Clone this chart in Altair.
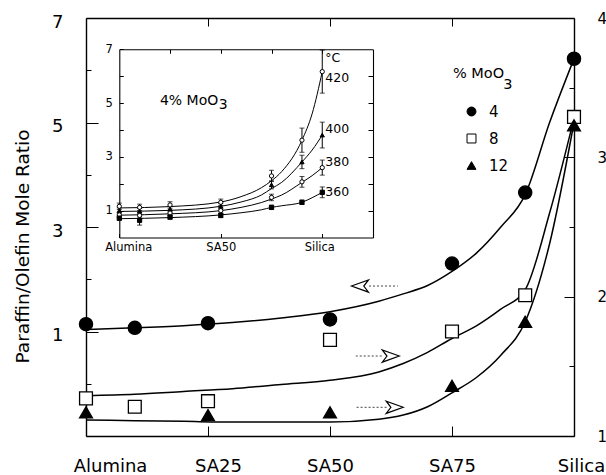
import altair as alt
import pandas as pd

FONT = "DejaVu Sans"

# ---------------- main panel: product ratio vs silica content (%) ----------------
silica_4 = [0, 10, 25, 50, 75, 90, 100]
ratio_4 = [1.14, 1.07, 1.16, 1.23, 2.30, 3.66, 6.22]          # left axis
silica_8 = [0, 10, 25, 50, 75, 90, 100]
ratio_8 = [1.27, 1.21, 1.25, 1.69, 1.75, 2.01, 3.29]           # right axis
silica_12 = [0, 25, 50, 75, 90, 100]
ratio_12 = [1.17, 1.15, 1.17, 1.36, 1.82, 3.23]               # right axis

# fitted curves
fit_x = [0, 10, 20, 30, 40, 50, 60, 65, 70, 75, 80, 85, 90, 95, 100]
fit_4 = [1.04, 1.07, 1.11, 1.17, 1.26, 1.38, 1.58, 1.72, 1.88, 2.15, 2.50, 3.00, 3.62, 5.00, 6.22]
fit_8 = [1.29, 1.30, 1.32, 1.34, 1.37, 1.40, 1.46, 1.52, 1.60, 1.70, 1.79, 1.91, 2.05, 2.60, 3.28]
fit_12 = [1.115, 1.11, 1.105, 1.10, 1.10, 1.10, 1.12, 1.15, 1.21, 1.31, 1.42, 1.58, 1.82, 2.38, 3.25]

support_ticks = [0, 25, 50, 75, 100]
support_names = ["Alumina", "SA25", "SA50", "SA75", "Silica"]
moo3_levels = ["4", "8", "12"]

# direction arrows: which axis each curve belongs to
arrow_side = ["left", "right", "right"]
arrow_tip = [54.4, 64.2, 65.0]
arrow_base = [58.0, 60.6, 61.6]
arrow_tail = [63.9, 55.3, 55.3]
arrow_y = [1.87, 1.574, 1.206]

# ---------------- inset: 4% MoO3 at several temperatures ----------------
inset_x = [0, 10, 25, 50, 75, 90, 100]
inset_temps = ["420", "400", "380", "360"]
inset_ratio = {
    "420": [1.16, 1.12, 1.21, 1.31, 2.29, 3.62, 6.17],
    "400": [1.00, 0.98, 1.06, 1.16, 1.96, 2.81, 3.81],
    "380": [0.84, 0.82, 0.91, 1.00, 1.49, 2.07, 2.60],
    "360": [0.72, 0.64, 0.76, 0.82, 1.12, 1.31, 1.68],
}
inset_err = {
    "420": [0.12, 0.12, 0.12, 0.12, 0.21, 0.45, 0.80],
    "400": [0.10, 0.10, 0.10, 0.10, 0.15, 0.25, 0.48],
    "380": [0.10, 0.10, 0.10, 0.10, 0.12, 0.20, 0.28],
    "360": [0.08, 0.18, 0.08, 0.08, 0.08, 0.08, 0.20],
}
inset_fit_x = [0, 25, 50, 60, 70, 75, 80, 90, 95, 100]
inset_fit = {
    "420": [1.10, 1.15, 1.32, 1.52, 1.85, 2.11, 2.45, 3.62, 4.60, 6.17],
    "400": [0.97, 1.01, 1.16, 1.32, 1.58, 1.82, 2.05, 2.81, 3.25, 3.81],
    "380": [0.83, 0.88, 1.00, 1.12, 1.30, 1.43, 1.58, 2.05, 2.30, 2.60],
    "360": [0.70, 0.74, 0.84, 0.92, 1.03, 1.12, 1.18, 1.31, 1.48, 1.68],
}
inset_marker = {"420": ("circle", False), "400": ("triangle-up", True),
                "380": ("circle", False), "360": ("square", True)}
inset_support_ticks = [0, 50, 100]
inset_support_names = ["Alumina", "SA50", "Silica"]
temp_label_y = [5.94, 4.02, 2.80, 1.69]

# ---------------- geometry ----------------
W, H = 488, 418
IN_X = [33.3, 287.0]
IN_Y = [219.5, 31.3]


def sx():
    return alt.Scale(domain=[0, 100], nice=False, zero=False)


def s_left():
    return alt.Scale(domain=[-1, 7], nice=False, zero=False)


def s_right():
    return alt.Scale(domain=[1, 4], nice=False, zero=False)


def s_inx():
    return alt.Scale(domain=[0, 125], range=IN_X, nice=False, zero=False)


def s_iny():
    return alt.Scale(domain=[0, 7], range=IN_Y, nice=False, zero=False)


def inward(n):
    # negative tick length draws the ticks inside the frame
    return {"expr": str(-n)}


def names_expr(names, step):
    arr = "[" + ",".join("'%s'" % n for n in names) + "]"
    return "%s[round(datum.value / %d)]" % (arr, step)


common = dict(grid=False, domainColor="black", tickColor="black", labelColor="black",
              labelFont=FONT, labelFlush=False, labelOverlap=False, title=None)

ax_bottom = alt.Axis(orient="bottom", values=support_ticks,
                     labelExpr=names_expr(support_names, 25),
                     tickSize=inward(10), tickWidth=1, domainWidth=1.4,
                     labelFontSize=18, labelPadding=31,
                     labelOffset={"expr": "datum.value == 0 ? 24 : datum.value == 25 ? 10 : datum.value == 100 ? 7 : 0"},
                     **common)
ax_top = alt.Axis(orient="top", values=[25, 50, 75], labels=False,
                  tickSize=inward(8), tickWidth=1, domainWidth=1.4, **common)
common_y = dict(common)
common_y.pop("title")
ax_left = alt.Axis(orient="left", values=[1, 3, 5, 7], tickSize=inward(12), tickWidth=1,
                   domainWidth=1.4, labelFontSize=18, labelPadding=35, labelOffset=4,
                   title="Paraffin/Olefin Mole Ratio", titleFont=FONT, titleFontSize=18.5,
                   titleFontWeight="normal", titleColor="black", titleX=-64, titleY=228,
                   titleAngle=270, titleAlign="center", titleBaseline="middle", **common_y)
ax_left_minor = alt.Axis(orient="left", values=[0, 2, 4, 6], labels=False, domain=False,
                         tickSize=inward(5), tickWidth=1, **common)
ax_right = alt.Axis(orient="right", values=[1, 2, 3, 4], tickSize=inward(10), tickWidth=1,
                    domainWidth=1.4, labelFontSize=15, labelPadding=33, **common)
ax_right_minor = alt.Axis(orient="right", values=[1.5, 2.5, 3.5], labels=False, domain=False,
                          tickSize=inward(5), tickWidth=1, **common)

ax_in_bottom = alt.Axis(orient="bottom", offset=IN_Y[0] - H, values=inset_support_ticks,
                        labelExpr=names_expr(inset_support_names, 50),
                        tickSize=inward(4), tickWidth=1, domainWidth=1.1,
                        labelFontSize=11.5, labelPadding=8,
                        labelOffset={"expr": "datum.value == 0 ? 9 : datum.value == 100 ? -3 : 0"},
                        **common)
ax_in_left = alt.Axis(orient="left", offset=-IN_X[0], values=[1, 2, 3, 4, 5, 6, 7],
                      labelExpr="datum.value % 2 == 1 ? datum.label : ''",
                      tickSize=inward(4), tickWidth=1, domainWidth=1.1,
                      labelFontSize=11.5, labelPadding=11, **common)
ax_in_top = alt.Axis(orient="top", offset=-IN_Y[1], values=[25, 50, 75, 100], labels=False,
                     tickSize=inward(4), tickWidth=1, domainWidth=1.1, **common)
ax_in_right = alt.Axis(orient="right", offset=IN_X[1] - W, values=[1, 2, 3, 4, 5, 6],
                       labels=False, tickSize=inward(5), tickWidth=1, domainWidth=1.1, **common)

# ---------------- data tables ----------------
pts_left = pd.DataFrame({"silica": silica_4, "ratio": ratio_4, "MoO3": "4"})
pts_right = pd.DataFrame({"silica": silica_8 + silica_12, "ratio": ratio_8 + ratio_12,
                          "MoO3": ["8"] * len(silica_8) + ["12"] * len(silica_12)})
curve_left = pd.DataFrame({"silica": fit_x, "ratio": fit_4})
curve_right = pd.DataFrame({"silica": fit_x + fit_x, "ratio": fit_8 + fit_12,
                            "MoO3": ["8"] * len(fit_x) + ["12"] * len(fit_x)})
arrows = pd.DataFrame({"side": arrow_side, "tip": arrow_tip, "base": arrow_base,
                       "tail": arrow_tail, "y": arrow_y})
arrows_l = arrows[arrows.side == "left"]
arrows_r = arrows[arrows.side == "right"]

ins_rows = []
for t in inset_temps:
    for x, v, e in zip(inset_x, inset_ratio[t], inset_err[t]):
        ins_rows.append({"temp": t, "silica": x, "ratio": v, "lo": v - e, "hi": v + e})
ins_pts = pd.DataFrame(ins_rows)
ins_fit = pd.DataFrame([{"temp": t, "silica": x, "ratio": v}
                        for t in inset_temps for x, v in zip(inset_fit_x, inset_fit[t])])
ins_labels = pd.DataFrame({"silica": [101.5] * 4, "ratio": temp_label_y, "label": inset_temps})

# ---------------- marks ----------------
legend = alt.Legend(title=None, orient="none", legendX=378, legendY=86, padding=0,
                    labelFont=FONT, labelFontSize=15, labelColor="black", labelOffset=10,
                    symbolSize=80, symbolStrokeColor="black", symbolStrokeWidth=1,
                    rowPadding=11)
shape_enc = alt.Shape("MoO3:N", sort=moo3_levels,
                      scale=alt.Scale(domain=moo3_levels, range=["circle", "square", "triangle-up"]),
                      legend=legend)
fill_enc = alt.Fill("MoO3:N", sort=moo3_levels,
                    scale=alt.Scale(domain=moo3_levels, range=["black", "white", "black"]),
                    legend=legend)
stroke_enc = alt.Stroke("MoO3:N", sort=moo3_levels,
                        scale=alt.Scale(domain=moo3_levels, range=["black", "black", "black"]),
                        legend=legend)

layers = []

layers.append(alt.Chart(curve_left).mark_line(color="black", strokeWidth=1.5, interpolate="monotone").encode(
    x=alt.X("silica:Q", scale=sx(), axis=ax_bottom),
    y=alt.Y("ratio:Q", scale=s_left(), axis=ax_left)))
layers.append(alt.Chart(curve_right).mark_line(color="black", strokeWidth=1.5, interpolate="monotone").encode(
    x=alt.X("silica:Q", scale=sx(), axis=None),
    y=alt.Y("ratio:Q", scale=s_right(), axis=ax_right),
    detail="MoO3:N"))

layers.append(alt.Chart(pts_left).mark_point(strokeWidth=1.3, opacity=1, size=175).encode(
    x=alt.X("silica:Q", scale=sx(), axis=ax_top),
    y=alt.Y("ratio:Q", scale=s_left(), axis=ax_left_minor),
    shape=shape_enc, fill=fill_enc, stroke=stroke_enc))
layers.append(alt.Chart(pts_right).mark_point(strokeWidth=1.3, opacity=1, size=165).encode(
    x=alt.X("silica:Q", scale=sx(), axis=None),
    y=alt.Y("ratio:Q", scale=s_right(), axis=ax_right_minor),
    shape=shape_enc, fill=fill_enc, stroke=stroke_enc))

HEAD_LEFT = "M0,0L2,-0.72L1.45,0L2,0.72Z"
HEAD_RIGHT = "M0,0L-2,-0.72L-1.45,0L-2,0.72Z"
for df, ys, head in [(arrows_l, s_left, HEAD_LEFT), (arrows_r, s_right, HEAD_RIGHT)]:
    layers.append(alt.Chart(df).mark_rule(color="#444", strokeWidth=1, strokeDash=[2, 2]).encode(
        x=alt.X("base:Q", scale=sx(), axis=None), x2="tail:Q",
        y=alt.Y("y:Q", scale=ys(), axis=None)))
    layers.append(alt.Chart(df).mark_point(shape=head, size=289, filled=True, fill="white",
                                           stroke="black", strokeWidth=1.2, opacity=1).encode(
        x=alt.X("tip:Q", scale=sx(), axis=None),
        y=alt.Y("y:Q", scale=ys(), axis=None)))

# legend heading, with the subscript set lower
layers.append(alt.Chart(pd.DataFrame({"x": [75.2], "y": [5.93], "t": ["% MoO"]})).mark_text(
    font=FONT, fontSize=14.5, align="left", baseline="middle", color="black").encode(
    x=alt.X("x:Q", scale=sx(), axis=None), y=alt.Y("y:Q", scale=s_left(), axis=None), text="t:N"))
layers.append(alt.Chart(pd.DataFrame({"x": [85.5], "y": [5.72], "t": ["3"]})).mark_text(
    font=FONT, fontSize=14.5, align="left", baseline="middle", color="black").encode(
    x=alt.X("x:Q", scale=sx(), axis=None), y=alt.Y("y:Q", scale=s_left(), axis=None), text="t:N"))

# inset
layers.append(alt.Chart(ins_fit).mark_line(color="black", strokeWidth=1, interpolate="monotone").encode(
    x=alt.X("silica:Q", scale=s_inx(), axis=ax_in_bottom),
    y=alt.Y("ratio:Q", scale=s_iny(), axis=ax_in_left),
    detail="temp:N"))
layers.append(alt.Chart(ins_pts).mark_rule(color="black", strokeWidth=1).encode(
    x=alt.X("silica:Q", scale=s_inx(), axis=ax_in_top),
    y=alt.Y("lo:Q", scale=s_iny(), axis=ax_in_right), y2="hi:Q"))
for end in ["lo", "hi"]:
    layers.append(alt.Chart(ins_pts).mark_tick(orient="horizontal", size=5, thickness=1, color="black").encode(
        x=alt.X("silica:Q", scale=s_inx(), axis=None),
        y=alt.Y(end + ":Q", scale=s_iny(), axis=None)))
for t in inset_temps:
    shp, filled = inset_marker[t]
    layers.append(alt.Chart(ins_pts[ins_pts.temp == t]).mark_point(
        shape=shp, size=18, filled=True, fill="black" if filled else "white",
        stroke="black", strokeWidth=1, opacity=1).encode(
        x=alt.X("silica:Q", scale=s_inx(), axis=None),
        y=alt.Y("ratio:Q", scale=s_iny(), axis=None)))
layers.append(alt.Chart(ins_labels).mark_text(font=FONT, fontSize=12.5, align="left",
                                               baseline="middle", color="black").encode(
    x=alt.X("silica:Q", scale=s_inx(), axis=None),
    y=alt.Y("ratio:Q", scale=s_iny(), axis=None), text="label:N"))
ins_text = pd.DataFrame({"x": [101.5, 20.0, 49.0], "y": [6.68, 5.09, 4.92],
                         "t": ["°C", "4% MoO", "3"], "s": [12.5, 14, 14]})
for i in range(len(ins_text)):
    row = ins_text.iloc[[i]]
    layers.append(alt.Chart(row).mark_text(font=FONT, fontSize=float(row.s.iloc[0]), align="left",
                                           baseline="middle", color="black").encode(
        x=alt.X("x:Q", scale=s_inx(), axis=None),
        y=alt.Y("y:Q", scale=s_iny(), axis=None), text="t:N"))

chart = alt.layer(*layers).resolve_scale(x="independent", y="independent").properties(
    width=W, height=H, autosize=alt.AutoSizeParams(type="none"),
    padding={"left": 86, "top": 18, "right": 32, "bottom": 39},
    background="white",
).configure_view(stroke=None)

chart.save("out.html", embed_options={"renderer": "svg", "actions": False})
